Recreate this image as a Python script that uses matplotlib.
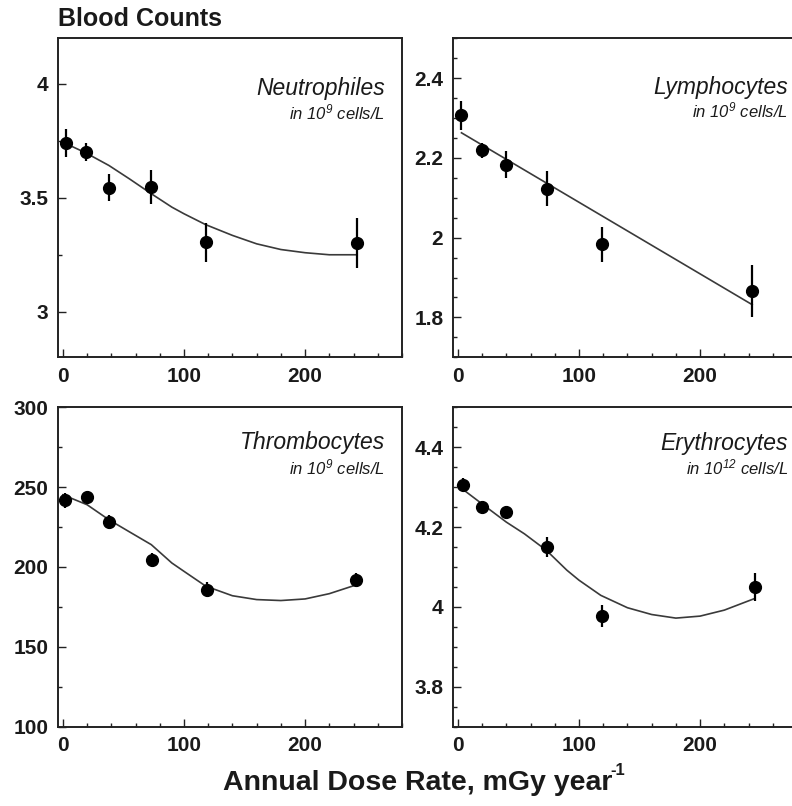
import matplotlib
matplotlib.use("Agg")
import matplotlib.pyplot as plt
from matplotlib.ticker import MultipleLocator

plt.rcParams['font.family'] = ['Liberation Sans', 'DejaVu Sans']
plt.rcParams['mathtext.default'] = 'regular'

# ---------------- data ----------------
# Neutrophiles
neu_x = [3, 19, 38, 73, 118, 243]
neu_y = [3.74, 3.70, 3.544, 3.548, 3.305, 3.30]
neu_err = [0.062, 0.04, 0.06, 0.076, 0.085, 0.11]
neu_fit_x = [0, 19, 38, 55, 73, 90, 100, 118, 140, 160, 180, 200, 220, 243]
neu_fit_y = [3.744, 3.697, 3.642, 3.583, 3.518, 3.459, 3.43, 3.382, 3.335,
             3.298, 3.273, 3.259, 3.25, 3.25]

# Lymphocytes
lym_x = [3, 20, 40, 74, 119, 243]
lym_y = [2.307, 2.219, 2.183, 2.123, 1.983, 1.867]
lym_err = [0.036, 0.018, 0.034, 0.044, 0.044, 0.065]
lym_fit_x = [3, 243]
lym_fit_y = [2.263, 1.832]

# Thrombocytes
thr_x = [2, 20, 38, 74, 119, 242]
thr_y = [241.7, 243.8, 228.3, 204.2, 185.8, 191.7]
thr_err = [4.5, 3.5, 4.5, 4.5, 4.5, 4.5]
thr_fit_x = [0, 20, 38, 55, 73, 90, 100, 118, 140, 160, 180, 200, 220, 243]
thr_fit_y = [245.2, 239.0, 229.6, 222.0, 214.0, 202.5, 197.3, 188.0, 182.0,
             179.6, 179.0, 180.0, 183.3, 189.0]

# Erythrocytes
ery_x = [4, 20, 40, 74, 119, 245]
ery_y = [4.306, 4.25, 4.238, 4.15, 3.977, 4.05]
ery_err = [0.018, 0.008, 0.016, 0.026, 0.027, 0.034]
ery_fit_x = [0, 20, 40, 55, 73, 90, 100, 118, 140, 160, 180, 200, 220, 245]
ery_fit_y = [4.304, 4.258, 4.2125, 4.183, 4.142, 4.092, 4.067, 4.029, 3.998,
             3.981, 3.972, 3.977, 3.992, 4.021]

panel_names = ['Neutrophiles', 'Lymphocytes', 'Thrombocytes', 'Erythrocytes']
panel_units = ['in 10$^{9}$ cells/L', 'in 10$^{9}$ cells/L',
               'in 10$^{9}$ cells/L', 'in 10$^{12}$ cells/L']
x_ticks = [0, 100, 200]
y_ticks = [[3, 3.5, 4], [1.8, 2, 2.2, 2.4], [100, 150, 200, 250, 300], [3.8, 4, 4.2, 4.4]]
y_tick_labels = [['3', '3.5', '4'], ['1.8', '2', '2.2', '2.4'],
                 ['100', '150', '200', '250', '300'], ['3.8', '4', '4.2', '4.4']]

# ---------------- figure ----------------
W, H = 792, 806
fig = plt.figure(figsize=(W / 100, H / 100), dpi=100)

def rect(l, t, r, b):
    return [l / W, 1 - b / H, (r - l) / W, (b - t) / H]

axes = [
    fig.add_axes(rect(58, 38.3, 402, 357.3)),
    fig.add_axes(rect(453, 38.3, 797, 357.3)),
    fig.add_axes(rect(58, 407.3, 402, 726.7)),
    fig.add_axes(rect(453, 407.3, 797, 726.7)),
]

ylims = [(2.8, 4.2), (1.7, 2.5), (100, 300), (3.7, 4.5)]
yminor = [0.25, 0.05, 25, 0.05]
series = [
    (neu_x, neu_y, neu_err, neu_fit_x, neu_fit_y),
    (lym_x, lym_y, lym_err, lym_fit_x, lym_fit_y),
    (thr_x, thr_y, thr_err, thr_fit_x, thr_fit_y),
    (ery_x, ery_y, ery_err, ery_fit_x, ery_fit_y),
]
label_pos = [(0.951, 0.843, 0.768), (0.974, 0.846, 0.774),
             (0.951, 0.891, 0.8125), (0.974, 0.8875, 0.8125)]

txt_color = '#1a1a1a'
for i, ax in enumerate(axes):
    x, y, e, fx, fy = series[i]
    ax.plot(fx, fy, color='#3a3a3a', lw=1.2, zorder=2)
    ax.errorbar(x, y, yerr=e, fmt='o', color='black', ms=8.5, elinewidth=1.6,
                capsize=0, zorder=3)
    ax.set_xlim(-4, 280)
    ax.set_ylim(*ylims[i])
    ax.set_xticks(x_ticks)
    ax.set_xticklabels([str(v) for v in x_ticks])
    ax.set_yticks(y_ticks[i])
    ax.set_yticklabels(y_tick_labels[i])
    ax.xaxis.set_minor_locator(MultipleLocator(20))
    ax.yaxis.set_minor_locator(MultipleLocator(yminor[i]))
    ax.tick_params(which='both', direction='in', top=False, right=False,
                   color='#222222', width=1.0)
    ax.tick_params(which='major', length=6, labelsize=15, pad=7,
                   labelcolor=txt_color)
    ax.tick_params(which='minor', length=3)
    for lab in ax.get_xticklabels() + ax.get_yticklabels():
        lab.set_fontweight('bold')
    for sp in ax.spines.values():
        sp.set_linewidth(1.4)
        sp.set_color('#222222')
    lx, ly1, ly2 = label_pos[i]
    ax.text(lx, ly1, panel_names[i], transform=ax.transAxes, ha='right',
            va='center', fontsize=16.5, fontstyle='italic', color=txt_color)
    ax.text(lx, ly2, panel_units[i], transform=ax.transAxes, ha='right',
            va='center', fontsize=12, fontstyle='italic', color=txt_color)

fig.text(58 / W, 1 - 19 / H, 'Blood Counts', ha='left', va='center',
         fontsize=18, fontweight='bold', color=txt_color)
xl = fig.text(418 / W, 1 - 783 / H, 'Annual Dose Rate, mGy year',
              ha='center', va='center', fontsize=20.5, fontweight='bold',
              color=txt_color)
axes[3].annotate('-1', xy=(0.995, 0.68), xycoords=xl, ha='left', va='bottom',
                 fontsize=12, fontweight='bold', color=txt_color,
                 annotation_clip=False)

fig.savefig('out.png', dpi=100)
